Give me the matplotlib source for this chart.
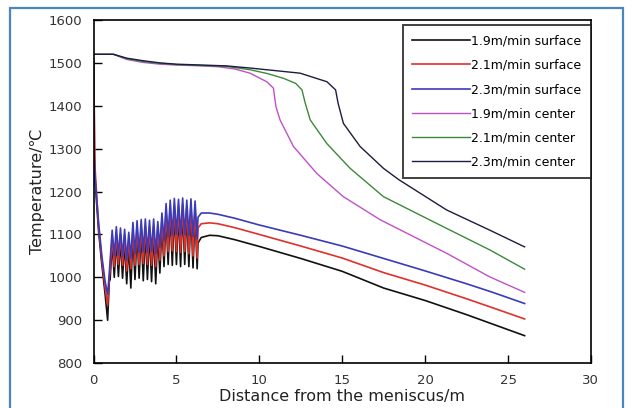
import matplotlib
matplotlib.use("Agg")
import matplotlib.pyplot as plt
from matplotlib.patches import Rectangle

plt.rcParams['font.family'] = ['DejaVu Sans']

# surface curves share one set of x positions
x_surf = [0, 0.03, 0.1, 0.3, 0.5, 0.7, 0.85, 0.95,
          1.0, 1.125, 1.25, 1.375, 1.5, 1.625, 1.75, 1.875, 2.0, 2.125,
          2.25, 2.375, 2.5, 2.625, 2.75, 2.875, 3.0, 3.125, 3.25, 3.375,
          3.5, 3.625, 3.75, 3.875, 4.0, 4.125, 4.25, 4.375, 4.5, 4.625,
          4.75, 4.875, 5.0, 5.125, 5.25, 5.375, 5.5, 5.625, 5.75, 5.875,
          6.0, 6.125, 6.25,
          6.3, 6.5, 7.0, 7.5, 8.5, 10, 12.5, 15, 17.5, 20, 22.5, 24, 26]

t_19_surf = [1500, 1280, 1220, 1110, 1030, 960, 900, 990,
             995, 1080, 1000, 1088, 1002, 1085, 998, 1082, 985, 1075,
             975, 1098, 995, 1105, 998, 1106, 992, 1105, 995, 1104,
             990, 1106, 985, 1100, 1010, 1120, 1025, 1140, 1030, 1150,
             1028, 1152, 1030, 1150, 1025, 1155, 1030, 1150, 1025, 1152,
             1022, 1148, 1020,
             1080, 1093, 1098, 1097, 1088, 1072, 1044, 1014, 975, 946, 913, 892, 864]

t_21_surf = [1505, 1430, 1250, 1120, 1040, 975, 935, 1000,
             1015, 1095, 1025, 1102, 1030, 1100, 1028, 1098, 1015, 1090,
             1020, 1112, 1028, 1118, 1030, 1120, 1032, 1120, 1030, 1118,
             1028, 1120, 1025, 1115, 1040, 1135, 1050, 1155, 1060, 1165,
             1062, 1168, 1060, 1166, 1058, 1170, 1060, 1165, 1055, 1168,
             1050, 1162, 1045,
             1115, 1125, 1127, 1125, 1116, 1100, 1073, 1045, 1011, 982, 950, 930, 903]

t_23_surf = [1510, 1290, 1230, 1130, 1050, 990, 960, 1010,
             1040, 1110, 1050, 1118, 1052, 1115, 1048, 1112, 1040, 1105,
             1045, 1128, 1055, 1132, 1058, 1135, 1060, 1136, 1058, 1133,
             1060, 1136, 1055, 1130, 1070, 1150, 1085, 1172, 1095, 1180,
             1098, 1184, 1100, 1182, 1098, 1185, 1100, 1180, 1097, 1183,
             1095, 1178, 1090,
             1140, 1150, 1150, 1147, 1138, 1122, 1098, 1073, 1044, 1015, 985, 966, 939]

x_19_cent = [0, 1.2, 2, 3, 4, 5, 6.5, 7.5, 8.5, 9.44, 10.45, 10.85, 11.0,
             11.25, 12.06, 13.47, 15.07, 17.3, 21.3, 23.9, 26]
t_19_cent = [1520, 1520, 1508, 1501, 1497, 1495, 1493, 1491, 1486, 1476, 1456,
             1441, 1398, 1367, 1305, 1242, 1188, 1134, 1056, 1001, 965]

x_21_cent = [0, 1.2, 2, 3, 4, 5, 6.5, 8, 9.44, 10.5, 11.46, 12.2, 12.57,
             12.77, 13.07, 14.07, 15.48, 17.49, 21.3, 23.9, 26]
t_21_cent = [1520, 1520, 1510, 1503, 1499, 1496, 1494, 1492, 1484, 1475, 1464,
             1452, 1437, 1406, 1367, 1312, 1254, 1188, 1114, 1064, 1019]

x_23_cent = [0, 1.2, 2, 3, 4, 5, 6.5, 8, 9.44, 12.46, 14.08, 14.6, 14.75,
             15.07, 16.08, 17.49, 18.4, 21.3, 23.9, 26]
t_23_cent = [1520, 1520, 1511, 1505, 1500, 1497, 1495, 1493, 1488, 1476, 1456,
             1437, 1406, 1359, 1305, 1254, 1228, 1157, 1110, 1071]

fig = plt.figure(figsize=(6.32, 4.08), dpi=100)
ax = fig.add_axes([0.148, 0.110, 0.787, 0.841])

ax.plot(x_surf, t_19_surf, color='#111111', lw=1.2, label='1.9m/min surface')
ax.plot(x_surf, t_21_surf, color='#e0302a', lw=1.2, label='2.1m/min surface')
ax.plot(x_surf, t_23_surf, color='#3b3bb8', lw=1.2, label='2.3m/min surface')
ax.plot(x_19_cent, t_19_cent, color='#c050c8', lw=1.0, label='1.9m/min center')
ax.plot(x_21_cent, t_21_cent, color='#3a8a3a', lw=1.0, label='2.1m/min center')
ax.plot(x_23_cent, t_23_cent, color='#1c1c40', lw=1.0, label='2.3m/min center')

ax.set_xlim(0, 30)
ax.set_ylim(800, 1600)
ax.set_xticks([0, 5, 10, 15, 20, 25, 30])
ax.set_yticks([800, 900, 1000, 1100, 1200, 1300, 1400, 1500, 1600])
ax.tick_params(direction='in', length=6, width=1.0, labelsize=9.5,
               labelcolor='#333333', pad=8)
for s in ax.spines.values():
    s.set_linewidth(1.2)

ax.set_xlabel('Distance from the meniscus/m', fontsize=11.5, color='#222222', labelpad=1)
ax.set_ylabel('Temperature/℃', fontsize=11.5, color='#222222', labelpad=3)

leg = ax.legend(loc='upper right', bbox_to_anchor=(1.0, 0.985), fontsize=9,
                frameon=True, fancybox=False, edgecolor='#111111',
                handlelength=4.6, handletextpad=0.15, labelspacing=0.9,
                borderpad=0.75, borderaxespad=0)
leg.get_frame().set_linewidth(1.4)

fig.patches.append(Rectangle((0.016, -0.02), 0.970, 1.0, transform=fig.transFigure,
                             fill=False, edgecolor='#4a86c0', lw=1.6))

fig.savefig('out.png', dpi=100)
